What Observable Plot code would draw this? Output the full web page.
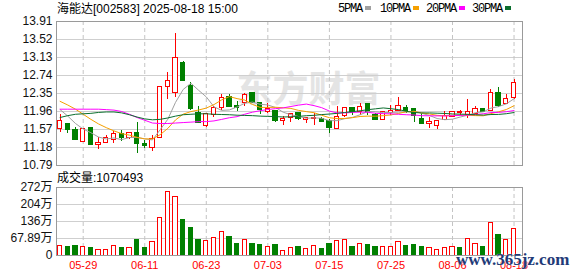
<!DOCTYPE html>
<html>
<head>
<meta charset="utf-8">
<script src="https://cdn.jsdelivr.net/npm/d3@7"></script>
<script src="https://cdn.jsdelivr.net/npm/@observablehq/plot@0.6"></script>
<style>
  html, body { margin: 0; padding: 0; background: #fff; }
  #wrap { position: relative; width: 578px; height: 276px; overflow: hidden; background: #fff; }
  #price, #vol { position: absolute; left: 0; }
  #price { top: 0; }
  #vol { top: 172px; }
  .t { position: absolute; font-size: 12px; line-height: 14px; color: #000; white-space: nowrap;
       font-family: "Liberation Sans", "Noto Sans CJK SC", sans-serif; }
  .cjk { font-family: "Noto Sans CJK SC", sans-serif; }
  .mono { font-family: "Liberation Mono", monospace; letter-spacing: -1.2px; }
  .sw { display: inline-block; width: 6px; height: 4px; margin-left: 3px; vertical-align: 2px; }
  #wm { position: absolute; left: 456px; top: 251px; font-family: "Liberation Serif", serif; font-weight: bold;
        font-size: 17px; line-height: 17px; color: #1f3b78; white-space: nowrap;
        text-shadow: 0 0 1px #fff; }
</style>
</head>
<body>
<div id="wrap">
  <div id="price"></div>
  <div id="vol"></div>
  <div class="t" style="left:57px; top:1px;"><span class="cjk">海能达</span>[002583] 2025-08-18 15:00</div>
  <div class="t mono" style="left:338px; top:2px;">5PMA<span class="sw" style="background:#a0a0a0"></span></div>
  <div class="t mono" style="left:380px; top:2px;">10PMA<span class="sw" style="background:#f5a000"></span></div>
  <div class="t mono" style="left:426px; top:2px;">20PMA<span class="sw" style="background:#ff00ff"></span></div>
  <div class="t mono" style="left:472px; top:2px;">30PMA<span class="sw" style="background:#0b6e2e"></span></div>
  <div class="t" style="left:57px; top:170px;"><span class="cjk">成交量</span>:1070493</div>
  <div id="wm">www.365jz.com</div>
</div>
<script>
// ---- data ----
const dates = ["05-26","05-27","05-28","05-29","05-30","06-03","06-04","06-05","06-06","06-09",
  "06-10","06-11","06-12","06-13","06-16","06-17","06-18","06-19","06-20","06-23",
  "06-24","06-25","06-26","06-27","06-30","07-01","07-02","07-03","07-04","07-07",
  "07-08","07-09","07-10","07-11","07-14","07-15","07-16","07-17","07-18","07-21",
  "07-22","07-23","07-24","07-25","07-28","07-29","07-30","07-31","08-01","08-04",
  "08-05","08-06","08-07","08-08","08-11","08-12","08-13","08-14","08-15","08-18"];
const open = [11.60,11.68,11.55,11.32,11.59,11.24,11.28,11.35,11.46,11.39,11.48,11.24,11.17,11.39,12.51,12.37,12.99,12.50,11.92,11.65,
  11.90,12.04,12.26,12.07,12.15,12.34,12.13,11.95,11.96,11.77,11.82,11.91,11.79,11.80,11.79,11.75,11.59,11.87,12.03,11.97,
  12.11,11.87,11.79,11.94,11.98,12.02,12.00,11.79,11.71,11.65,11.79,11.86,11.94,11.90,11.92,12.01,11.98,12.36,12.13,12.27];
const high = [11.89,11.69,11.62,11.60,11.61,11.39,11.45,11.53,11.55,11.50,11.72,11.33,11.45,12.49,12.80,13.66,13.04,12.59,12.07,11.92,
  12.07,12.33,12.33,12.18,12.36,12.35,12.14,12.13,11.98,11.85,11.92,11.94,11.82,11.91,11.84,11.78,12.07,12.04,12.04,12.13,
  12.13,11.91,11.95,12.09,12.26,12.08,12.01,11.92,11.84,11.74,11.97,11.97,11.98,12.21,12.07,12.03,12.43,12.49,12.33,12.65];
const low = [11.51,11.49,11.33,11.31,11.25,11.14,11.27,11.27,11.32,11.36,11.06,11.15,11.10,11.39,12.21,12.27,12.61,11.98,11.71,11.62,
  11.84,11.98,12.06,11.97,12.07,12.15,11.90,11.91,11.73,11.65,11.73,11.77,11.71,11.65,11.73,11.49,11.58,11.84,11.87,11.88,
  11.88,11.78,11.79,11.87,11.96,11.91,11.73,11.69,11.60,11.58,11.78,11.84,11.87,11.80,11.91,11.93,11.97,12.04,12.12,12.21];
const close = [11.74,11.58,11.35,11.58,11.25,11.27,11.37,11.47,11.39,11.48,11.27,11.23,11.35,12.49,12.62,13.10,12.63,12.02,11.73,11.90,
  12.03,12.24,12.07,12.05,12.30,12.16,12.00,12.00,11.77,11.79,11.89,11.81,11.81,11.81,11.75,11.62,11.82,12.02,11.95,12.04,
  11.97,11.79,11.93,11.97,12.07,11.99,11.87,11.71,11.73,11.74,11.86,11.93,11.94,11.93,12.01,11.95,12.34,12.10,12.23,12.56];
// volume in 万 (10k shares)
const volume = [38.5,35.8,39.8,34.5,31.8,22.5,22.5,38.5,29.2,30.5,63.6,29.2,55.7,149.8,254.6,233.4,143.2,111.4,63.6,59.7,
  70.3,95.5,75.6,47.7,63.6,47.7,43.8,35.8,43.8,19.9,30.5,35.8,26.5,39.8,27.8,47.7,59.7,63.6,35.8,46.4,
  43.8,35.8,34.5,35.8,55.7,39.8,43.8,35.8,30.5,22.5,30.5,34.5,31.8,66.3,46.4,35.8,131.3,83.5,63.6,107.05];
const ma5 = [12.00,11.86,11.70,11.58,11.50,11.406,11.364,11.388,11.35,11.396,11.396,11.368,11.344,11.564,11.792,12.158,12.438,12.572,12.42,12.276,
  12.062,11.984,11.994,12.058,12.138,12.164,12.116,12.102,12.046,11.944,11.89,11.852,11.814,11.822,11.814,11.76,11.762,11.804,11.832,11.89,
  11.96,11.954,11.936,11.94,11.946,11.95,11.966,11.922,11.874,11.808,11.782,11.794,11.84,11.88,11.934,11.952,12.034,12.066,12.126,12.236];
const ma10 = [12.18,12.10,12.01,11.90,11.79,11.69,11.61,11.54,11.48,11.448,11.401,11.366,11.366,11.457,11.594,11.777,11.903,11.958,11.992,12.034,
  12.11,12.211,12.283,12.239,12.207,12.113,12.05,12.048,12.052,12.041,12.027,11.984,11.958,11.934,11.879,11.825,11.807,11.809,11.827,11.852,
  11.86,11.858,11.87,11.886,11.918,11.955,11.96,11.929,11.907,11.877,11.866,11.88,11.881,11.877,11.871,11.867,11.914,11.953,12.003,12.085];
const ma20 = [12.01,12.01,12.01,12.01,12.01,12.01,12.00,11.99,11.96,11.90,11.83,11.77,11.71,11.70,11.70,11.71,11.72,11.73,11.74,11.741,
  11.756,11.789,11.825,11.848,11.901,11.945,11.977,12.003,12.022,12.038,12.069,12.098,12.121,12.087,12.043,11.969,11.929,11.929,11.94,11.947,
  11.944,11.921,11.914,11.91,11.899,11.89,11.884,11.869,11.867,11.865,11.863,11.869,11.876,11.882,11.895,11.911,11.937,11.941,11.955,11.981];
const ma30 = [11.83,11.87,11.90,11.91,11.92,11.94,11.95,11.95,11.93,11.89,11.84,11.80,11.78,11.79,11.82,11.86,11.89,11.90,11.91,11.91,
  11.90,11.895,11.89,11.88,11.875,11.87,11.86,11.855,11.85,11.841,11.846,11.854,11.869,11.877,11.893,11.905,11.92,11.938,11.957,11.976,
  11.999,12.018,12.037,12.02,12.001,11.964,11.939,11.929,11.929,11.923,11.918,11.907,11.903,11.899,11.889,11.882,11.894,11.897,11.912,11.938];
const priceTicks = [10.79,11.18,11.57,11.96,12.35,12.74,13.13,13.52,13.91];
const priceTickLabels = ["10.79","11.18","11.57","11.96","12.35","12.74","13.13","13.52","13.91"];
const volTicks = [0,67.89,135.78,203.67,271.56];
const volTickLabels = ["0","67.89万","136万","204万","272万"];
const tickDates = ["05-29","06-11","06-23","07-03","07-15","07-25","08-06","08-18"];
const watermark = ["东方财富"];

// ---- build ----
const RED = "#ff0000", GREEN = "#008000";
const rows = dates.map((d, i) => ({i, date: d, o: open[i], h: high[i], l: low[i], c: close[i], v: volume[i]}));
const up = d => d.c >= d.o;
const tickIdx = tickDates.map(t => dates.indexOf(t));
const xDomain = [-0.47, 60.1];
const bw = 0.28;
const font = "'Liberation Sans','Noto Sans CJK SC',sans-serif";
const maSeries = [
  {vals: ma5, color: "#a0a0a0"},
  {vals: ma10, color: "#f5a000"},
  {vals: ma20, color: "#ff00ff"},
  {vals: ma30, color: "#0b6e2e"}
];

const price = Plot.plot({
  width: 578, height: 172,
  marginTop: 21, marginBottom: 7, marginLeft: 56, marginRight: 56,
  x: {type: "linear", domain: xDomain, axis: null},
  y: {domain: [10.79, 13.91], axis: null},
  color: {type: "identity"},
  style: {background: "transparent", fontFamily: font, fontSize: "12px", color: "#000"},
  marks: [
    Plot.text(watermark, {text: d => d, frameAnchor: "middle", dx: 19, dy: -3, fontSize: 36, fontWeight: "bold",
      fill: "#e4e4e4", fontFamily: "'Noto Sans CJK SC',sans-serif"}),
    Plot.gridY(priceTicks, {stroke: "#cfcfcf", strokeOpacity: 1}),
    Plot.gridX(tickIdx, {stroke: "#c4c4c4", strokeOpacity: 1, strokeDasharray: "4,3"}),
    Plot.axisY(priceTicks, {tickSize: 0, tickPadding: 4, label: null, fontSize: 12, fill: "#111",
      tickFormat: d => priceTickLabels[priceTicks.indexOf(d)]}),
    Plot.ruleX(rows, {x: "i", y1: "l", y2: "h", stroke: d => up(d) ? RED : GREEN, strokeWidth: 1, shapeRendering: "crispEdges"}),
    Plot.rect(rows, {x1: d => d.i - bw, x2: d => d.i + bw, y1: d => Math.min(d.o, d.c), y2: d => Math.max(d.o, d.c),
      fill: d => up(d) ? "#ffffff" : GREEN, stroke: d => up(d) ? RED : GREEN, strokeWidth: 1,
      insetTop: -0.5, insetBottom: -0.5, shapeRendering: "crispEdges"}),
    ...maSeries.map(s => Plot.line(s.vals, {x: (d, i) => i, y: d => d, stroke: s.color, strokeWidth: 1})),
    Plot.frame({stroke: "#9a9a9a"})
  ]
});
document.getElementById("price").append(price);

const vol = Plot.plot({
  width: 578, height: 104,
  marginTop: 15, marginBottom: 21, marginLeft: 56, marginRight: 56,
  x: {type: "linear", domain: xDomain, axis: null},
  y: {domain: [0, 271.56], axis: null},
  color: {type: "identity"},
  style: {background: "transparent", fontFamily: font, fontSize: "12px", color: "#000"},
  marks: [
    Plot.gridY(volTicks, {stroke: "#cfcfcf", strokeOpacity: 1}),
    Plot.gridX(tickIdx, {stroke: "#c4c4c4", strokeOpacity: 1, strokeDasharray: "4,3"}),
    Plot.axisY(volTicks, {tickSize: 0, tickPadding: 4, label: null, fontSize: 12, fill: "#111",
      tickFormat: d => volTickLabels[volTicks.indexOf(d)]}),
    Plot.axisX(tickIdx, {tickSize: 0, tickPadding: 6, label: null, fontSize: 11, fill: RED,
      tickFormat: i => dates[i]}),
    Plot.rect(rows, {x1: d => d.i - bw, x2: d => d.i + bw, y1: 0, y2: "v",
      fill: d => d.c > d.o ? "#ffffff" : GREEN, stroke: d => d.c > d.o ? RED : GREEN, strokeWidth: 1,
      shapeRendering: "crispEdges"}),
    Plot.frame({stroke: "#9a9a9a"})
  ]
});
document.getElementById("vol").append(vol);
</script>
</body>
</html>
